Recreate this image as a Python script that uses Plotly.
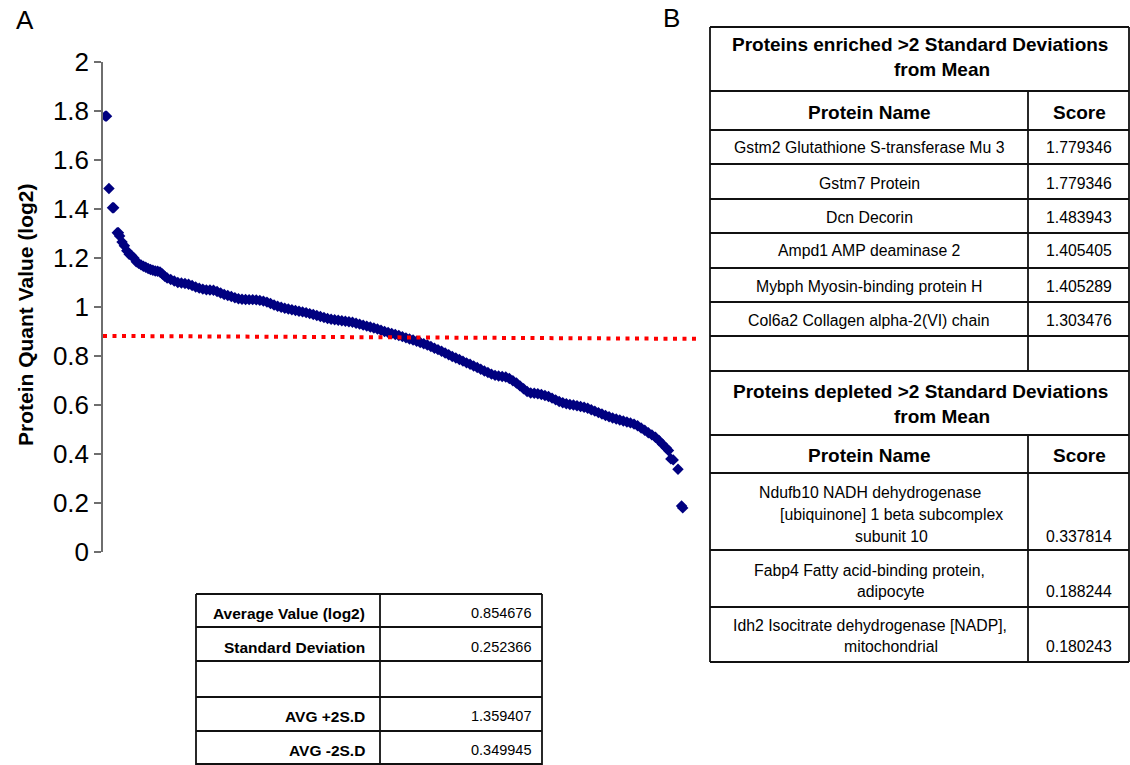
import plotly.graph_objects as go

W, H = 1130, 765
FONT = "Liberation Sans, Arial, sans-serif"

# ---------------- data ----------------
rank = [2, 3, 5, 8, 9, 12, 13, 14, 16, 18, 20, 22, 24, 26, 28, 30, 32, 34, 36, 38, 40, 42, 44, 46, 48,
        50, 52, 54, 57, 60, 63, 66, 69, 72, 75, 78, 81, 84, 87, 90, 93, 96, 99, 102, 105, 108, 111, 114,
        117, 120, 123, 126, 129, 132, 135, 138, 141, 144, 147, 150, 153, 156, 159, 162, 165, 168, 171,
        174, 177, 180, 183, 186, 189, 192, 195, 198, 201, 204, 207, 210, 213, 216, 219, 222, 225, 228,
        231, 234, 237, 240, 243, 246, 249, 252, 255, 258, 261, 264, 267, 270, 273, 276, 279, 282, 285,
        288, 291, 294, 297, 300, 303, 306, 309, 312, 315, 318, 321, 324, 327, 330, 333, 336, 339, 342,
        345, 348, 351, 354, 357, 360, 363, 366, 369, 372, 375, 378, 381, 384, 387, 390, 393, 396, 399,
        402, 405, 408, 411, 414, 417, 420, 423, 426, 429, 432, 435, 438, 441, 444, 447, 450, 453, 456,
        459, 462, 465, 468, 471, 474, 476, 478, 480, 484, 487, 488]
quant = [1.779, 1.779, 1.484, 1.405, 1.405, 1.303, 1.303, 1.29, 1.265, 1.25, 1.23, 1.215, 1.21, 1.20,
         1.185, 1.178, 1.172, 1.166, 1.162, 1.157, 1.153, 1.150, 1.147, 1.146, 1.143, 1.135, 1.125,
         1.118, 1.112, 1.106, 1.100, 1.098, 1.096, 1.093, 1.088, 1.082, 1.077, 1.073, 1.070, 1.069,
         1.068, 1.063, 1.057, 1.051, 1.047, 1.043, 1.038, 1.034, 1.032, 1.031, 1.030, 1.030, 1.029,
         1.027, 1.024, 1.020, 1.014, 1.008, 1.003, 0.999, 0.995, 0.992, 0.989, 0.986, 0.983, 0.980,
         0.977, 0.973, 0.969, 0.965, 0.961, 0.957, 0.953, 0.950, 0.948, 0.946, 0.944, 0.942, 0.940,
         0.938, 0.934, 0.930, 0.926, 0.922, 0.918, 0.914, 0.910, 0.905, 0.900, 0.896, 0.892, 0.888,
         0.884, 0.879, 0.874, 0.869, 0.865, 0.860, 0.855, 0.850, 0.845, 0.839, 0.832, 0.826, 0.819,
         0.812, 0.805, 0.798, 0.792, 0.786, 0.779, 0.772, 0.766, 0.759, 0.753, 0.746, 0.739, 0.733,
         0.726, 0.721, 0.718, 0.716, 0.714, 0.708, 0.699, 0.690, 0.678, 0.666, 0.655, 0.649, 0.648,
         0.646, 0.643, 0.639, 0.635, 0.628, 0.621, 0.614, 0.609, 0.605, 0.602, 0.600, 0.597, 0.594,
         0.591, 0.587, 0.581, 0.575, 0.569, 0.563, 0.557, 0.552, 0.547, 0.543, 0.539, 0.535, 0.531,
         0.527, 0.522, 0.515, 0.506, 0.497, 0.487, 0.478, 0.468, 0.455, 0.440, 0.425, 0.414, 0.380,
         0.376, 0.338, 0.188, 0.180]

cutoff_x = [0, 500]
cutoff_y = [0.882, 0.870]

y_tick_vals = [0, 0.2, 0.4, 0.6, 0.8, 1.0, 1.2, 1.4, 1.6, 1.8, 2.0]
y_tick_text = ["0", "0.2", "0.4", "0.6", "0.8", "1", "1.2", "1.4", "1.6", "1.8", "2"]
y_title = "Protein Quant Value (log2)"

stats_labels = ["Average Value (log2)", "Standard Deviation", "", "AVG +2S.D", "AVG -2S.D"]
stats_values = ["0.854676", "0.252366", "", "1.359407", "0.349945"]

enriched_title = ["Proteins enriched >2 Standard Deviations", "from Mean"]
depleted_title = ["Proteins depleted >2 Standard Deviations", "from Mean"]
col_headers = ["Protein Name", "Score"]
enriched_names = ["Gstm2 Glutathione S-transferase Mu 3", "Gstm7 Protein", "Dcn Decorin",
                  "Ampd1 AMP deaminase 2", "Mybph Myosin-binding protein H",
                  "Col6a2 Collagen alpha-2(VI) chain"]
enriched_scores = ["1.779346", "1.779346", "1.483943", "1.405405", "1.405289", "1.303476"]
depleted_names = [["Ndufb10 NADH dehydrogenase", "[ubiquinone] 1 beta subcomplex", "subunit 10"],
                  ["Fabp4 Fatty acid-binding protein,", "adipocyte"],
                  ["Idh2 Isocitrate dehydrogenase [NADP],", "mitochondrial"]]
depleted_scores = ["0.337814", "0.188244", "0.180243"]

# ---------------- helpers ----------------
def px(x):
    return x / W

def py(y):
    return 1 - y / H

annotations = []
shapes = []

def text(x, y, s, size=15.5, bold=False, xanchor="center", angle=0):
    annotations.append(dict(
        x=px(x), y=py(y), xref="paper", yref="paper", showarrow=False,
        text=("<b>%s</b>" % s) if bold else s, xanchor=xanchor, yanchor="middle",
        textangle=angle, font=dict(family=FONT, size=size, color="#000000")))

def hline(x0, x1, y, w=1.8):
    shapes.append(dict(type="line", xref="paper", yref="paper", x0=px(x0), x1=px(x1),
                       y0=py(y), y1=py(y), line=dict(color="#111111", width=w)))

def vline(x, y0, y1, w=1.8):
    shapes.append(dict(type="line", xref="paper", yref="paper", x0=px(x), x1=px(x),
                       y0=py(y0), y1=py(y1), line=dict(color="#111111", width=w)))

# ---------------- figure ----------------
fig = go.Figure()
fig.add_trace(go.Scatter(x=rank, y=quant, mode="markers",
                         marker=dict(symbol="diamond", size=8.8, color="#000080",
                                     line=dict(width=0)),
                         hoverinfo="skip", showlegend=False))
fig.add_trace(go.Scatter(x=cutoff_x, y=cutoff_y, mode="lines",
                         line=dict(color="#FF0000", width=4, dash="4px,5.5px"),
                         hoverinfo="skip", showlegend=False))

# panel labels and axis title
text(25, 20, "A", size=26)
text(671, 18, "B", size=26)
text(25, 315, y_title, size=21, bold=True, angle=-90)

# ---- left statistics table ----
L0, LM, L1 = 196, 380, 542
lrows = [594, 627, 661, 697, 731, 764]
for yy in lrows:
    hline(L0, L1, yy)
vline(L0, 594, 765)
vline(LM, 594, 765)
vline(L1, 594, 765)
stat_text_y = [613, 647, 679, 716, 750]
for lab, val, yy in zip(stats_labels, stats_values, stat_text_y):
    if lab:
        text(367, yy, lab, size=15.5, bold=True, xanchor="right")
    if val:
        text(533, yy, val, size=14.5, xanchor="right")

# ---- right protein table ----
R0, RM, R1 = 710, 1028, 1129
hline(R0, R1, 27)
for yy in [91, 130, 164, 199, 233, 268, 302, 336, 371, 435, 473, 550, 607, 662]:
    hline(R0, R1, yy)
vline(R0, 27, 662)
vline(R1, 27, 662)
vline(RM, 91, 371)
vline(RM, 435, 662)

text(920, 44, enriched_title[0], size=19, bold=True)
text(942, 69, enriched_title[1], size=19, bold=True)
text(869, 112, col_headers[0], size=19, bold=True)
text(1079, 112, col_headers[1], size=19, bold=True)
row_y = [147, 183, 217, 251, 286, 320]
for nm, sc, yy in zip(enriched_names, enriched_scores, row_y):
    text(869, yy, nm, size=15.8)
    text(1079, yy, sc, size=15.8)

text(920, 392, depleted_title[0], size=19, bold=True)
text(942, 417, depleted_title[1], size=19, bold=True)
text(869, 455, col_headers[0], size=19, bold=True)
text(1079, 455, col_headers[1], size=19, bold=True)
dep_line_pos = [[(870, 492), (891, 514), (891, 536)],
                [(869, 570), (891, 591)],
                [(870, 625), (891, 646)]]
for lines, pos, sc in zip(depleted_names, dep_line_pos, depleted_scores):
    for ln, (xx, yy) in zip(lines, pos):
        text(xx, yy, ln, size=15.8)
    text(1079, pos[-1][1], sc, size=15.8)

fig.update_layout(
    template="none",
    width=W, height=H, autosize=False,
    margin=dict(l=0, r=0, t=0, b=0, pad=0),
    paper_bgcolor="white", plot_bgcolor="white",
    showlegend=False, hovermode=False,
    xaxis=dict(domain=[px(103), px(697)], range=[0, 500], visible=False, automargin=False),
    yaxis=dict(domain=[py(552), py(62)], range=[0, 2], tickvals=y_tick_vals,
               ticktext=y_tick_text, showgrid=False, zeroline=False, automargin=False,
               showline=True, linecolor="#6e6e6e", linewidth=1.5,
               ticks="outside", ticklen=7, tickwidth=1.5, tickcolor="#6e6e6e",
               tickfont=dict(family=FONT, size=26, color="#000000")),
    annotations=annotations, shapes=shapes,
)

fig.write_html(
    "out.html",
    config={"displayModeBar": False},
    post_script="document.body.style.margin='0';document.body.style.overflow='hidden';"
                "document.documentElement.style.overflow='hidden';",
)
